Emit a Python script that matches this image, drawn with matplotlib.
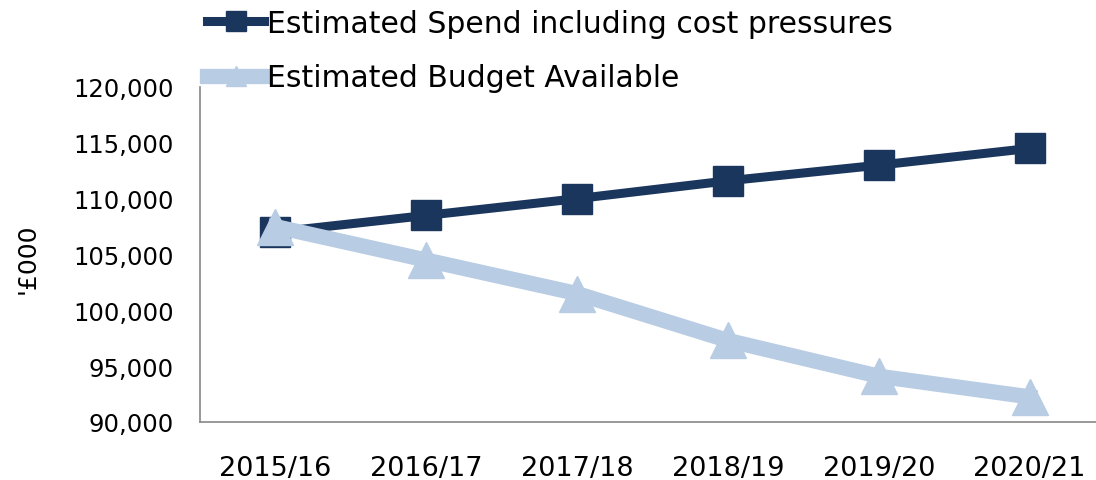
import matplotlib.pyplot as plt
from matplotlib.ticker import FuncFormatter

years = ['2015/16', '2016/17', '2017/18', '2018/19', '2019/20', '2020/21']
spend = [107000, 108500, 110000, 111600, 113000, 114500]
budget = [107500, 104500, 101500, 97300, 94100, 92250]

plt.rcParams['font.family'] = ['DejaVu Sans']

fig = plt.figure(figsize=(10.96, 4.81), dpi=100)
W, H = 1096, 481
ax = fig.add_axes([200 / W, 1 - 423 / H, 905 / W, (423 - 88) / H])

x = list(range(len(years)))
ax.plot(x, spend, color='#1B365D', lw=6.5, marker='s', ms=21,
        label='Estimated Spend including cost pressures', zorder=3)
ax.plot(x, budget, color='#B8CCE4', lw=11, marker='^', ms=26,
        label='Estimated Budget Available', zorder=4)

ax.set_xlim(-0.5, 5.5)
ax.set_ylim(90000, 120000)
ax.set_yticks(range(90000, 120001, 5000))
ax.yaxis.set_major_formatter(FuncFormatter(lambda v, p: f'{int(v):,}'))
ax.set_xticks(x)
ax.set_xticklabels(years)
ax.tick_params(length=0, colors='#000000')
ax.tick_params(axis='x', pad=24, labelsize=19.5)
ax.tick_params(axis='y', pad=19, labelsize=17.5)
for s in ['top', 'right']:
    ax.spines[s].set_visible(False)
for s in ['left', 'bottom']:
    ax.spines[s].set_color('#888888')
    ax.spines[s].set_linewidth(1.2)
ax.set_ylabel("'£000", fontsize=18)
ax.yaxis.set_label_coords(-160 / 905, 0.49)

leg = ax.legend(loc='upper left', bbox_to_anchor=(200 / W, 0.995), bbox_transform=fig.transFigure,
                frameon=False, fontsize=21.5, handlelength=1.9, handletextpad=0.1,
                labelspacing=0.85, borderaxespad=0.1, borderpad=0.15)
for h in leg.legend_handles:
    h.set_markersize(14)

fig.savefig('out.png', dpi=100)
